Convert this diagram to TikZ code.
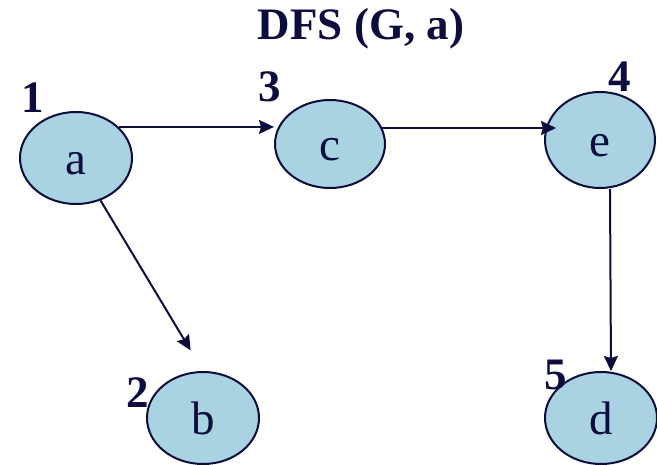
\documentclass[tikz,border=0pt]{standalone}
\usepackage{fontspec}
\setmainfont{Liberation Serif}
\usepackage{tikz}
\usetikzlibrary{shapes.geometric,arrows.meta}
\definecolor{ink}{HTML}{0C0C3E}
\definecolor{vfill}{HTML}{A9D3E0}

\begin{document}
\begin{tikzpicture}[x=1pt,y=-1pt,
    vertex/.style={ellipse,draw=ink,fill=vfill,line width=2pt,inner sep=0pt,
      minimum width=112pt,minimum height=92pt,text=ink,
      font=\fontsize{47}{50}\selectfont,text height=33pt,text depth=0pt},
    order/.style={text=ink,font=\fontsize{45}{50}\selectfont\bfseries,inner sep=0pt},
    edge/.style={draw=ink,line width=2pt,-{Stealth[length=15pt,width=14pt,inset=2pt]}}]
  \useasboundingbox (0,0) rectangle (657,464);
  % title
  \node[order] (title) at (361,29) {DFS (G, a)};
  % vertices
  \node[vertex] (a) at (76,158) {a};
  \node[vertex,minimum width=110pt,minimum height=88pt] (c) at (330,144) {c};
  \node[vertex,minimum width=110pt,minimum height=96pt] (e) at (600,140) {e};
  \node[vertex] (b) at (203,418) {b};
  \node[vertex] (d) at (601,418) {d};
  % visiting order
  \node[order] (n1) at (33,98) {1};
  \node[order] (n2) at (138,393) {2};
  \node[order] (n3) at (270,87) {3};
  \node[order] (n4) at (620,77) {4};
  \node[order] (n5) at (556,375) {5};
  % tree edges
  \draw[edge] (a.36) -- (a.36 -| c.west);
  \draw[edge,shorten >=-12pt] (c.17) -- (c.17 -| e.west);
  \draw[edge,shorten >=24pt] (a.-60) -- (b.north);
  \draw[edge] ([xshift=10pt]e.south) -- ([xshift=10pt]d.north);
\end{tikzpicture}
\end{document}
